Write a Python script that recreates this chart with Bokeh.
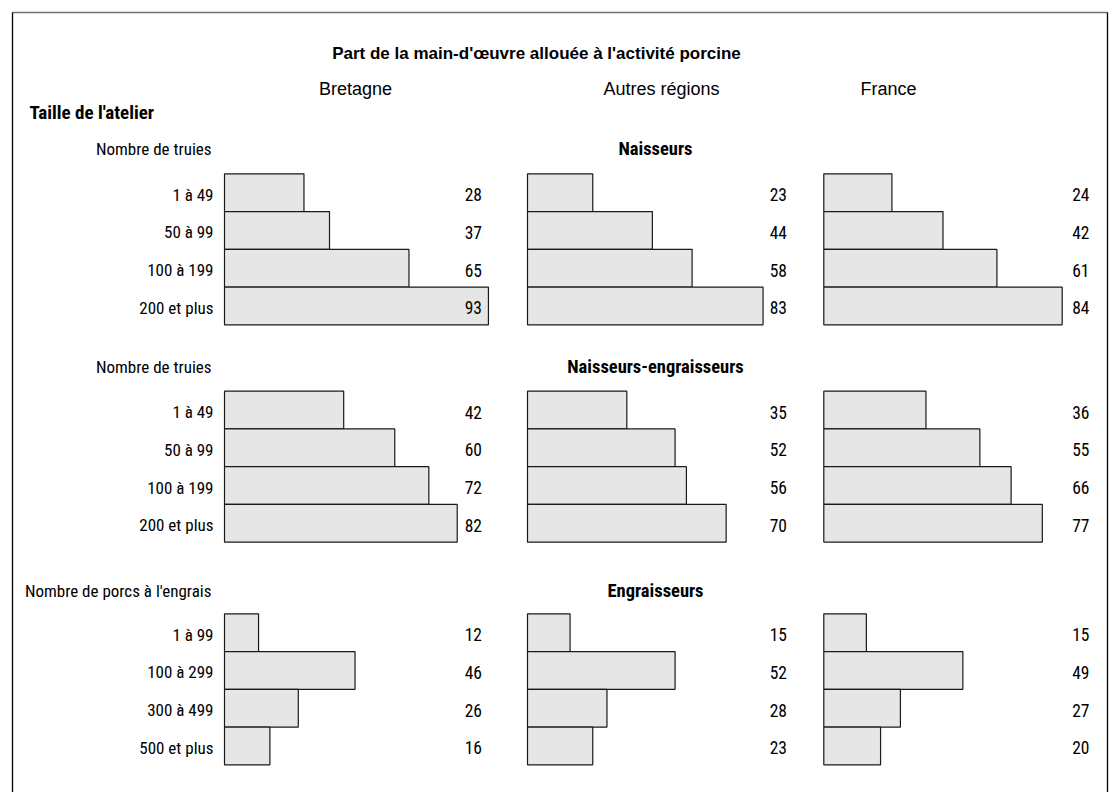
from bokeh.plotting import figure
from bokeh.models import Range1d, ColumnDataSource
from bokeh.core.properties import value
from bokeh.embed import file_html
from bokeh.resources import INLINE

# ---------------- data ----------------
title = "Part de la main-d'œuvre allouée à l'activité porcine"
regions = ["Bretagne", "Autres régions", "France"]
size_label = "Taille de l'atelier"
sections = ["Naisseurs", "Naisseurs-engraisseurs", "Engraisseurs"]
group_labels = ["Nombre de truies", "Nombre de truies", "Nombre de porcs à l'engrais"]
classes_truies = ["1 à 49", "50 à 99", "100 à 199", "200 et plus"]
classes_porcs = ["1 à 99", "100 à 299", "300 à 499", "500 et plus"]

naisseurs_bretagne = [28, 37, 65, 93]
naisseurs_autres = [23, 44, 58, 83]
naisseurs_france = [24, 42, 61, 84]
ne_bretagne = [42, 60, 72, 82]
ne_autres = [35, 52, 56, 70]
ne_france = [36, 55, 66, 77]
eng_bretagne = [12, 46, 26, 16]
eng_autres = [15, 52, 28, 23]
eng_france = [15, 49, 27, 20]

section_classes = [classes_truies, classes_truies, classes_porcs]
section_values = [
    [naisseurs_bretagne, naisseurs_autres, naisseurs_france],
    [ne_bretagne, ne_autres, ne_france],
    [eng_bretagne, eng_autres, eng_france],
]

# ---------------- layout (page pixels) ----------------
W, H = 1114, 792
K = 2.838                        # px per percentage point
panel_x0 = [224, 527, 823.3]     # bar origin of each region panel
value_right = [481.5, 786.5, 1089]
section_top = [173.3, 390.7, 613.3]
row_h = 37.75
header_x = [355, 661, 888]

NARROW = "Roboto Condensed"
REG = "Liberation Sans"

p = figure(width=W, height=H, x_range=Range1d(0, W), y_range=Range1d(H, 0),
           output_backend="svg", toolbar_location=None, min_border=0,
           background_fill_color="white", border_fill_color="white")
p.axis.visible = False
p.grid.visible = False
p.outline_line_color = None

# frame
p.segment(x0=[12], y0=[12], x1=[1107], y1=[12], line_color="#707070", line_width=1.6)
p.segment(x0=[12, 1107], y0=[12, 12], x1=[12, 1107], y1=[H, H], line_color="black", line_width=1.3)

# bars
bars = dict(left=[], right=[], top=[], bottom=[])
vals = dict(x=[], y=[], text=[])
cats = dict(x=[], y=[], text=[])
for s in range(3):
    for i, c in enumerate(section_classes[s]):
        top = section_top[s] + i * row_h
        cats["x"].append(213)
        cats["y"].append(top + row_h / 2 + 2)
        cats["text"].append(c)
        for r in range(3):
            v = section_values[s][r][i]
            bars["left"].append(panel_x0[r])
            bars["right"].append(panel_x0[r] + v * K)
            bars["top"].append(top)
            bars["bottom"].append(top + row_h)
            vals["x"].append(value_right[r])
            vals["y"].append(top + row_h / 2 + 2)
            vals["text"].append(str(v))

p.quad(source=ColumnDataSource(bars), left="left", right="right", top="top", bottom="bottom",
       fill_color="#e6e6e6", line_color="#1a1a1a", line_width=1.2)

p.text(source=ColumnDataSource(vals), x="x", y="y", text="text", text_align="right",
       text_baseline="middle", text_font=value(NARROW), text_font_size="17.5px", text_color="black")
p.text(source=ColumnDataSource(cats), x="x", y="y", text="text", text_align="right",
       text_baseline="middle", text_font=value(NARROW), text_font_size="17px", text_color="black")

# title and headers
p.text(x=[536], y=[52.5], text=[title], text_align="center", text_baseline="middle",
       text_font=value(REG), text_font_style="bold", text_font_size="17px", text_color="black")
p.text(x=header_x, y=[88, 88, 88], text=regions, text_align="center", text_baseline="middle",
       text_font=value(REG), text_font_size="18px", text_color="black")
p.text(x=[29], y=[112], text=[size_label], text_align="left", text_baseline="middle",
       text_font=value(NARROW), text_font_style="bold", text_font_size="19px", text_color="black")

sec_y = [148, 366.7, 590]
p.text(x=[655, 655, 655], y=sec_y, text=sections, text_align="center", text_baseline="middle",
       text_font=value(NARROW), text_font_style="bold", text_font_size="18.5px", text_color="black")
p.text(x=[211, 211, 211], y=sec_y, text=group_labels, text_align="right", text_baseline="middle",
       text_font=value(NARROW), text_font_size="17px", text_color="black")

open("out.html", "w").write(file_html(p, INLINE))
